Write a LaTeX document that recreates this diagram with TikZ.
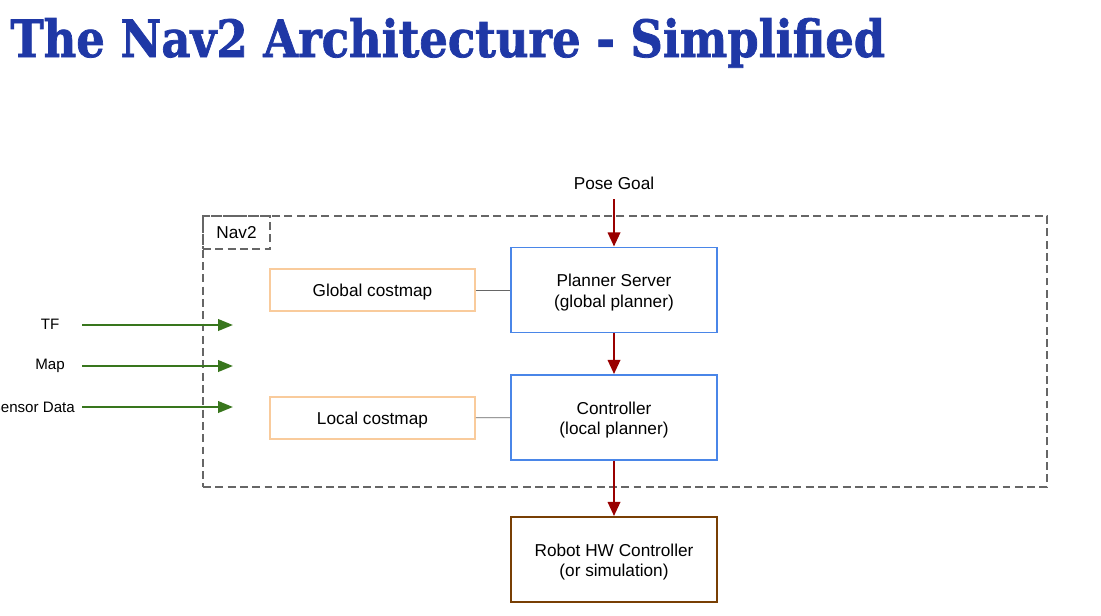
\documentclass[tikz,border=0pt]{standalone}
\usepackage{graphicx}
\usepackage{fontspec}
\setmainfont{Liberation Sans}
\newfontfamily\titlefont[BoldFeatures={FakeBold=1.5}]{DejaVu Serif}
\usetikzlibrary{arrows.meta}
\definecolor{titleblue}{RGB}{31,56,166}
\definecolor{flowred}{RGB}{153,0,0}
\definecolor{feedgreen}{RGB}{56,118,29}
\definecolor{boxblue}{RGB}{74,134,232}
\definecolor{maporange}{RGB}{249,203,156}
\definecolor{hwbrown}{RGB}{120,63,4}
\definecolor{navgray}{RGB}{102,102,102}

\begin{document}
\begin{tikzpicture}[x=0.02cm,y=-0.02cm,font=\fontsize{9.8}{11.5}\selectfont,
  block/.style={draw=boxblue,line width=1.1pt,minimum width=4.12cm,minimum height=1.7cm,align=center,text height=21.5pt},
  costmap/.style={draw=maporange,line width=1.1pt,minimum width=4.1cm,minimum height=0.84cm,text height=9pt},
  navframe/.style={draw=navgray,line width=1.1pt,dash pattern=on 4.5pt off 2.5pt},
  input/.style={font=\fontsize{8.6}{10}\selectfont},
  flow/.style={draw=flowred,line width=1.4pt,-{Triangle[length=8pt,width=7pt]}},
  feed/.style={draw=feedgreen,line width=1.4pt,-{Triangle[length=8.5pt,width=6.5pt]}}]
\useasboundingbox (0,0) rectangle (1101,615);
%title
\node[anchor=base west,inner sep=0,text=titleblue] (title) at (10,57)
  {\resizebox{17.5cm}{0.78cm}{\titlefont\bfseries The Nav2 Architecture - Simplified}};
%nav2 frame
\node[navframe,minimum width=16.88cm,minimum height=5.42cm] (nav2) at (625,351.5) {};
\node[navframe,anchor=north west,minimum width=1.34cm,minimum height=0.66cm] (nav2tab) at (nav2.north west) {Nav2};
%boxes
\node (goal) at (614,183) {Pose Goal};
\node[block] (planner) at (614,290) {Planner Server\\(global planner)};
\node[block] (controller) at (614,417.5) {Controller\\(local planner)};
\node[block,draw=hwbrown] (robot) at (614,559.5) {Robot HW Controller\\(or simulation)};
\node[costmap] (global) at (372.5,290) {Global costmap};
\node[costmap] (local) at (372.5,418) {Local costmap};
\draw[flow,shorten <=2pt] (goal) -- (planner);
\draw[flow] (planner) -- (controller);
\draw[flow] (controller) -- (robot);
\draw[navgray,line width=0.5pt] (global) -- (planner);
\draw[navgray,line width=0.5pt] (local) -- (controller);
%inputs
\node[input] (tf) at (50,324) {TF};
\node[input] (map) at (50,366) {Map};
\node[input,anchor=east] (sensor) at (81,407) {Sensor Data};
\coordinate (tfa) at (82,325);   \coordinate (tfb) at (233,325);
\coordinate (mapa) at (82,366);  \coordinate (mapb) at (233,366);
\coordinate (sena) at (82,407);  \coordinate (senb) at (233,407);
\draw[feed] (tfa) -- (tfb);
\draw[feed] (mapa) -- (mapb);
\draw[feed] (sena) -- (senb);
\end{tikzpicture}
\end{document}
